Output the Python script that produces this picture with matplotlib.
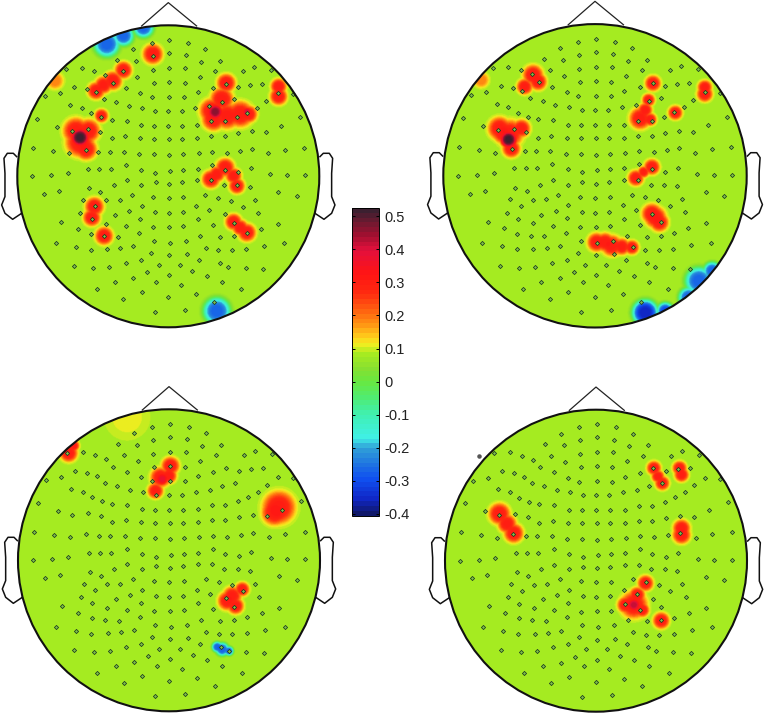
import numpy as np
import matplotlib
matplotlib.use("Agg")
import matplotlib.pyplot as plt
from matplotlib.colors import LinearSegmentedColormap
from matplotlib.patches import Circle

plt.rcParams['font.family'] = ['Liberation Sans', 'DejaVu Sans']
plt.rcParams['axes.unicode_minus'] = False

W, H = 765, 715
ZOOM_R = 453.0          # head radius in the units the readings are taken in
BASE = 0.085

# ---- colour scale: value, colour
CB_VALUES = [-0.405, -0.36, -0.3, -0.25, -0.205, -0.175, -0.1, -0.05, 0.0, 0.04, 0.085, 0.115, 0.14, 0.17, 0.21, 0.27, 0.33, 0.4, 0.45, 0.49, 0.525]
CB_COLORS = ['#10186a', '#1028c8', '#1050f0', '#2078e0', '#30a0d8', '#40f0e8', '#40f0b0', '#50ec70', '#68e840', '#88e030',
             '#a8ec20', '#f4ee20', '#ffc81a', '#ff9a14', '#ff6a10', '#ff2a10', '#ff1414', '#e4103c', '#a01030', '#6a1a30', '#3c2030']
CB_TICKS = [-0.4, -0.3, -0.2, -0.1, 0, 0.1, 0.2, 0.3, 0.4, 0.5]
CB_LABELS = ['-0.4', '-0.3', '-0.2', '-0.1', '0', '0.1', '0.2', '0.3', '0.4', '0.5']

# ---- sensor positions (offset from head centre)
SENSOR_UPPER_X = [455,507,564,616,400,507,558,604,661,352,408,458,199,246,283,316,370,411,458,507,555,599,645,730,762,813,
                  554,507,461,378,338,223,260,288,181,136,421,455,507,552,593,638,677,715,750,787,833,878,
                  211,246,312,349,387,427,466,504,545,585,628,665,703,771,799,
                  111,274,304,335,380,424,463,504,547,591,634,674,711,741,900,
                  172,215,263,300,335,375,421,463,507,547,591,634,674,714,757,799,843,
                  99,159,207,257,295,329,372,418,463,507,550,596,637,680,720,757,805,854,912,
                  264,298,332,378,424,466,510,550,593,637,674,714,752,811,860,914,97,154,203,
                  380,424,467,507,547,591,634,671,712,749,267,301,341]
SENSOR_UPPER_Y = [128,120,128,148,148,159,166,186,183,180,183,167,206,203,214,226,214,232,209,204,204,230,214,214,200,211,
                  248,246,249,263,248,260,266,277,280,289,280,292,290,292,277,265,251,260,255,252,280,283,
                  315,323,297,306,318,323,332,332,332,323,317,306,297,323,303,
                  357,340,352,360,362,376,378,378,378,376,364,364,352,338,352,
                  380,393,388,397,415,409,415,417,417,417,415,409,409,400,394,397,378,
                  443,452,460,449,455,455,455,463,463,466,463,460,455,458,452,446,460,449,443,
                  506,506,506,495,509,518,512,510,506,495,510,517,505,523,526,526,529,526,520,
                  541,555,547,552,547,541,541,555,555,560,564,575,555]
UPPER_CENTRE = (505, 529)

SENSOR_LOWER_X = [134,180,252,286,321,361,398,427,461,508,551,591,618,657,696,766,837,892,
                  243,277,347,390,467,508,550,595,630,677,730,777,
                  186,235,321,381,423,462,510,551,640,703,785,837,
                  275,315,356,420,465,513,560,602,661,703,742,
                  169,229,274,323,363,401,456,510,564,619,657,697,740,794,854,
                  223,281,329,379,424,478,541,579,600,663,686,739,791,
                  401,444,509,622,347,470,545,667,292,427,590,725,507,372,645,466,556]
SENSOR_LOWER_Y = [594,585,611,631,613,611,597,629,603,606,604,629,597,605,614,611,589,600,
                  651,670,657,645,648,651,648,670,642,655,632,650,
                  678,698,683,690,668,694,693,691,688,680,698,683,
                  714,720,722,711,735,741,735,720,723,720,712,
                  741,752,761,760,757,751,771,778,775,755,763,763,760,749,741,
                  809,815,812,800,792,806,806,826,792,800,812,815,818,
                  847,829,838,840,858,858,867,858,878,889,895,878,904,909,918,949,943]
LOWER_CENTRE = (507, 541)

# ---- outline pieces, offset from head centre
NOSE_X = [-80, 0, 85]
NOSE_Y = [-451, -521, -451]
EAR_X = [-455, -465, -483, -493, -490, -490, -500, -490, -467, -440]
EAR_Y = [-59, -69, -69, -54, -9, 61, 86, 111, 129, 111]

# ---- patches of activity: (x, y, radius, value)
P1_CENTRE = (505, 529)
P1_HIGH = [(458,165,28,.3),(370,213,24,.3),(338,245,26,.3),(310,258,24,.3),(288,275,24,.3),(304,350,19,.3),
           (228,395,36,.3),(265,395,32,.3),(240,430,40,.3),(258,450,30,.3),
           (283,622,26,.3),(275,655,24,.3),(312,710,25,.3),
           (678,252,26,.3),(665,300,32,.3),(635,335,34,.3),(640,360,32,.3),(680,350,36,.3),(720,345,36,.3),(745,345,24,.3),
           (835,262,22,.3),(835,292,24,.3),
           (675,505,26,.3),(632,540,25,.3),(650,525,22,.3),(710,560,22,.3),(700,530,22,.3),
           (700,668,23,.3),(740,700,25,.3),(720,685,22,.3),(165,245,24,.19),
           (240,415,26,.52),(645,338,22,.46),(740,338,12,.4)]
P1_LOW = [(320,135,38,-.27),(370,110,30,-.27),(430,85,30,-.27),(650,935,40,-.27)]

P2_CENTRE = (510, 527)
P2_HIGH = [(325,225,28,.3),(300,260,22,.3),(340,245,24,.3),
           (225,385,32,.3),(290,385,25,.3),(255,400,38,.3),(260,445,25,.3),(235,400,28,.3),(252,418,24,.52),(170,240,22,.19),
           (683,250,22,.3),(670,300,18,.3),(660,330,20,.3),(645,355,30,.3),(675,358,18,.3),
           (750,338,20,.3),(838,262,20,.3),(838,282,22,.3),
           (680,500,22,.3),(632,533,22,.3),(655,515,16,.3),
           (680,640,28,.3),(702,665,26,.3),(690,650,30,.3),
           (515,725,26,.3),(560,735,29,.3),(620,740,20,.3),(590,738,23,.3),(540,725,26,.3)]
P2_LOW = [(660,935,38,-.36),(720,930,25,-.3),(820,840,40,-.27),(860,810,26,-.27),(790,890,30,-.27)]

P3_CENTRE = (507, 541)
P3_HIGH = [(205,222,25,.3),(220,200,16,.3),(510,260,25,.3),(480,295,28,.3),(465,335,22,.3),(505,290,22,.3),(485,300,18,.37),
           (835,385,46,.3),(822,400,36,.3),(725,630,20,.3),(695,650,26,.3),(680,665,26,.3),(705,680,23,.3),(380,115,60,.11)]
P3_LOW = [(650,803,16,-.27),(665,810,20,-.27),(685,815,14,-.27)]

P4_CENTRE = (513, 542)
P4_HIGH = [(222,402,30,.3),(265,460,27,.3),(245,432,26,.3),(685,265,20,.3),(710,310,20,.3),(697,290,18,.3),
           (762,265,20,.3),(768,285,20,.3),(768,445,24,.3),(768,465,25,.3),
           (660,610,22,.3),(635,645,22,.3),(625,675,38,.3),(600,675,23,.3),(650,690,20,.3),(707,722,23,.3),(625,675,18,.42)]
P4_LOW = []
P4_STRAY_X = [162]
P4_STRAY_Y = [228]

# ---- where each head sits (pixels): centre x, centre y, radius
P1_BOX = (168.3, 176.3, 151.0)
P2_BOX = (595.0, 175.8, 151.7)
P3_BOX = (169.0, 560.3, 151.0)
P4_BOX = (596.0, 560.7, 151.0)

cmap = LinearSegmentedColormap.from_list(
    'topo', [((v - CB_VALUES[0]) / (CB_VALUES[-1] - CB_VALUES[0]), c) for v, c in zip(CB_VALUES, CB_COLORS)], N=64)

grid = np.linspace(-1.02, 1.02, 500)
XX, YY = np.meshgrid(grid, grid)


def field(centre, high, low):
    pos = np.zeros_like(XX)
    for x, y, r, v in high:
        d = np.hypot(XX - (x - centre[0]) / ZOOM_R, YY - (y - centre[1]) / ZOOM_R) / (r / ZOOM_R)
        pos = pos + ((v - BASE) * np.exp(-d ** 4)) ** 8
    neg = np.zeros_like(XX)
    for x, y, r, v in low:
        d = np.hypot(XX - (x - centre[0]) / ZOOM_R, YY - (y - centre[1]) / ZOOM_R) / (r / ZOOM_R)
        neg = neg + ((BASE - v) * np.exp(-d ** 4)) ** 8
    return BASE + pos ** 0.125 - neg ** 0.125


sx = np.array(SENSOR_UPPER_X + SENSOR_LOWER_X, float)
sy = np.array(SENSOR_UPPER_Y + SENSOR_LOWER_Y, float)
n_up = len(SENSOR_UPPER_X)
sx[:n_up] = (sx[:n_up] - UPPER_CENTRE[0]) / ZOOM_R
sy[:n_up] = (sy[:n_up] - UPPER_CENTRE[1]) / ZOOM_R
sx[n_up:] = (sx[n_up:] - LOWER_CENTRE[0]) / ZOOM_R
sy[n_up:] = (sy[n_up:] - LOWER_CENTRE[1]) / ZOOM_R

fig = plt.figure(figsize=(W / 100, H / 100), dpi=100)
fig.patch.set_facecolor('white')

im = None
MARGIN = 1.2
for box, centre, high, low in [(P1_BOX, P1_CENTRE, P1_HIGH, P1_LOW), (P2_BOX, P2_CENTRE, P2_HIGH, P2_LOW),
                               (P3_BOX, P3_CENTRE, P3_HIGH, P3_LOW), (P4_BOX, P4_CENTRE, P4_HIGH, P4_LOW)]:
    cx, cy, R = box
    ext = MARGIN * R
    ax = fig.add_axes([(cx - ext) / W, 1 - (cy + ext) / H, 2 * ext / W, 2 * ext / H])
    ax.set_xlim(-MARGIN, MARGIN)
    ax.set_ylim(MARGIN, -MARGIN)
    ax.axis('off')
    im = ax.imshow(field(centre, high, low), extent=(grid[0], grid[-1], grid[-1], grid[0]), cmap=cmap,
                   vmin=CB_VALUES[0], vmax=CB_VALUES[-1], interpolation='bilinear', aspect='equal', zorder=1)
    im.set_clip_path(Circle((0, 0), 1.0, transform=ax.transData))
    ax.set_xlim(-MARGIN, MARGIN)
    ax.set_ylim(MARGIN, -MARGIN)
    ax.scatter(sx, sy, s=4.5, marker='D', facecolor='#7fc24a', edgecolor='#1c3a20', linewidth=0.55, zorder=3)
    if box is P4_BOX:
        ax.scatter((np.array(P4_STRAY_X) - centre[0]) / ZOOM_R, (np.array(P4_STRAY_Y) - centre[1]) / ZOOM_R,
                   s=5, color='#555555', zorder=3)
    ax.add_patch(Circle((0, 0), 1.0, fill=False, edgecolor='#111111', linewidth=1.5, zorder=4))
    ax.plot(np.array(NOSE_X) / ZOOM_R, np.array(NOSE_Y) / ZOOM_R, color='#222222', lw=0.9, zorder=2)
    ex = np.array(EAR_X) / ZOOM_R
    ey = np.array(EAR_Y) / ZOOM_R
    ax.plot(ex, ey, color='#111111', lw=1.1, zorder=2)
    ax.plot(-ex, ey, color='#111111', lw=1.1, zorder=2)

cax = fig.add_axes([352 / W, 1 - 515.5 / H, 27 / W, 307.5 / H])
cb = fig.colorbar(im, cax=cax)
cb.set_ticks(CB_TICKS)
cb.set_ticklabels(CB_LABELS)
cax.tick_params(direction='in', left=True, right=True, length=2, width=0.7, pad=4, labelsize=10.5, labelcolor='#222222')
cb.outline.set_linewidth(0.7)
fig.savefig('out.png', dpi=100)
